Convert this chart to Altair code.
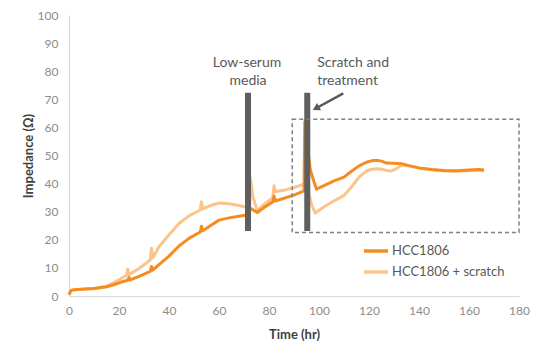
import altair as alt
import pandas as pd

# ---- data ----
series_names = ["HCC1806", "HCC1806 + scratch"]
series_colors = ["#F58C1F", "#FAC48A"]

dark_hr = [0, 0.8, 2, 5, 10, 15, 18, 21, 23.5, 24, 24.5, 28, 32.5, 33, 33.5, 36, 40, 44, 48,
           52.5, 53, 53.5, 57, 60, 64, 68, 71, 72, 73, 75.3, 78, 81.5, 82, 82.5, 86, 90, 94,
           94.3, 96.5, 97.5, 99, 102, 106, 110, 113, 116, 119, 121, 123, 125, 127, 130,
           133, 136, 140, 145, 150, 155, 160, 164, 166]
dark_val = [0.5, 2.0, 2.2, 2.4, 2.7, 3.3, 4.0, 5.0, 5.6, 6.6, 5.7, 7.0, 8.8, 10.5, 9.2, 11.2,
            14.2, 17.8, 20.5, 22.8, 24.8, 23.2, 25.3, 27.0, 27.8, 28.4, 28.8, 30.5, 31.0, 29.7,
            31.5, 33.5, 35.5, 33.8, 34.8, 35.9, 37.4, 62.0, 45.0, 42.0, 38.0, 39.3, 41.0,
            42.3, 44.4, 46.3, 47.6, 48.1, 48.3, 48.0, 47.3, 47.2, 47.1, 46.4, 45.6, 45.0, 44.7,
            44.6, 44.8, 45.0, 44.8]

light_hr = [0, 0.8, 2, 5, 10, 15, 18, 21, 23, 23.5, 24, 28, 32.5, 33, 33.5, 36, 40, 44, 48,
            52.5, 53, 53.5, 57, 60, 64, 68, 71, 72.3, 72.6, 73.5, 75.3, 78, 81.5, 82, 82.5, 86,
            90, 94, 95, 97, 98.5, 100, 103, 106, 110, 113, 116, 119, 121, 124, 127, 129, 131,
            133, 136, 140, 145, 150, 155, 160, 164, 166]
light_val = [0.5, 2.0, 2.2, 2.4, 2.7, 3.4, 4.8, 6.3, 7.3, 9.6, 7.6, 9.8, 12.8, 17.0, 13.5, 17.5,
             21.8, 25.8, 28.5, 30.6, 33.5, 31.0, 32.3, 33.1, 32.8, 32.2, 31.6, 31.5, 42.0, 35.5,
             30.3, 32.6, 35.0, 39.2, 37.2, 37.6, 38.6, 39.8, 40.0, 32.5, 29.5, 30.5, 32.3, 33.8,
             35.8, 38.8, 42.3, 44.5, 45.1, 45.3, 44.7, 44.5, 45.3, 46.6, 46.3, 45.5, 44.9, 44.5,
             44.4, 44.6, 44.8, 44.6]

x_ticks = [0, 20, 40, 60, 80, 100, 120, 140, 160, 180]
y_ticks = [0, 10, 20, 30, 40, 50, 60, 70, 80, 90, 100]

# event bars (low-serum media, scratch and treatment)
event_hr = [71.6, 95.3]
event_top = [72.3, 72.3]
event_bottom = [23.1, 23.1]

# dashed box region
box_x = [89.3]
box_x2 = [180]
box_y = [62.9]
box_y2 = [22.6]

# arrow (from, to)
arrow_hr = [109.7]
arrow_val = [72.1]
arrow_hr2 = [99.2]
arrow_val2 = [67.0]

# annotation text
note_text = ["Low-serum", "media", "Scratch and", "treatment"]
note_hr = [71.2, 71.6, 99.3, 99.3]
note_val = [82.9, 76.5, 82.9, 76.5]
note_align = ["center", "center", "left", "left"]

FONT = "Lato"
GRAY_TXT = "#595959"

dark_df = pd.DataFrame({"hr": dark_hr, "val": dark_val, "series": series_names[0]})
light_df = pd.DataFrame({"hr": light_hr, "val": light_val, "series": series_names[1]})

xs = alt.Scale(domain=[0, 180], nice=False)
ys = alt.Scale(domain=[0, 100], nice=False)
color = alt.Color(
    "series:N",
    scale=alt.Scale(domain=series_names, range=series_colors),
    legend=alt.Legend(
        title=None, orient="none", legendX=293, legendY=222,
        symbolType="stroke", symbolSize=576, symbolStrokeWidth=3.5,
        labelFontSize=13, labelFont=FONT, labelColor=GRAY_TXT, labelOffset=2,
        rowPadding=-7,
    ),
)

X_AX = alt.Axis(
    title="Time (hr)", values=x_ticks, grid=False, ticks=False,
    labelOverlap=False, labelFlush=False,
    domainColor="#D9D9D9", domainWidth=1.2,
    labelColor="#8C8C8C", labelFontSize=12, labelFont=FONT, labelPadding=9,
    titleColor="#404040", titleFontSize=13, titleFont=FONT, titleFontWeight="bold",
    titlePadding=12,
)
Y_AX = alt.Axis(
    title="Impedance (Ω)", values=y_ticks, grid=False, ticks=False,
    labelOverlap=False, labelFlush=False,
    domainColor="#D9D9D9", domainWidth=1.2,
    labelColor="#8C8C8C", labelFontSize=12, labelFont=FONT, labelPadding=11,
    titleColor="#404040", titleFontSize=13, titleFont=FONT, titleFontWeight="bold",
    titlePadding=2,
)


def X(field):
    return alt.X(field, type="quantitative", scale=xs, axis=X_AX, title="Time (hr)")


def Y(field):
    return alt.Y(field, type="quantitative", scale=ys, axis=Y_AX, title="Impedance (Ω)")


light_line = alt.Chart(light_df).mark_line(strokeWidth=3, strokeJoin="round").encode(
    x=X("hr"), y=Y("val"), color=color)
dark_line = alt.Chart(dark_df).mark_line(strokeWidth=3, strokeJoin="round").encode(
    x=X("hr"), y=Y("val"), color=color)

ev_df = pd.DataFrame({"hr": event_hr, "top": event_top, "bottom": event_bottom})
bars = alt.Chart(ev_df).mark_rule(strokeWidth=6, color="#5F5F5F").encode(
    x=X("hr"), y=Y("top"), y2="bottom:Q")

box_df = pd.DataFrame({"x": box_x, "x2": box_x2, "y": box_y, "y2": box_y2})
box = alt.Chart(box_df).mark_rect(
    fillOpacity=0, stroke="#7F7F7F", strokeWidth=1.5, strokeDash=[4, 3]
).encode(x=X("x"), x2="x2:Q", y=Y("y"), y2="y2:Q")

ar_df = pd.DataFrame({"x": arrow_hr, "y": arrow_val, "x2": arrow_hr2, "y2": arrow_val2})
arrow_line = alt.Chart(ar_df).mark_rule(strokeWidth=2.5, color="#595959").encode(
    x=X("x"), y=Y("y"), x2="x2:Q", y2="y2:Q")
arrow_head = alt.Chart(ar_df).mark_point(
    shape="triangle", filled=True, color="#595959", size=70, angle=241, opacity=1
).encode(x=X("x2"), y=Y("y2"))

notes_df = pd.DataFrame({"t": note_text, "hr": note_hr, "val": note_val, "al": note_align})
notes_c = alt.Chart(notes_df[notes_df["al"] == "center"]).mark_text(
    align="center", baseline="middle", font=FONT, fontSize=14, color=GRAY_TXT
).encode(x=X("hr"), y=Y("val"), text="t:N")
notes_l = alt.Chart(notes_df[notes_df["al"] == "left"]).mark_text(
    align="left", baseline="middle", font=FONT, fontSize=14, color=GRAY_TXT
).encode(x=X("hr"), y=Y("val"), text="t:N")

chart = alt.layer(
    light_line, dark_line, bars, box, arrow_line, arrow_head, notes_c, notes_l
).properties(
    width=450, height=281,
    autosize=alt.AutoSizeParams(type="none"),
    padding={"left": 69, "top": 15, "right": 30, "bottom": 59},
    background="white",
).configure_view(stroke=None)

chart.save("out.html", embed_options={"renderer": "svg", "actions": False})
